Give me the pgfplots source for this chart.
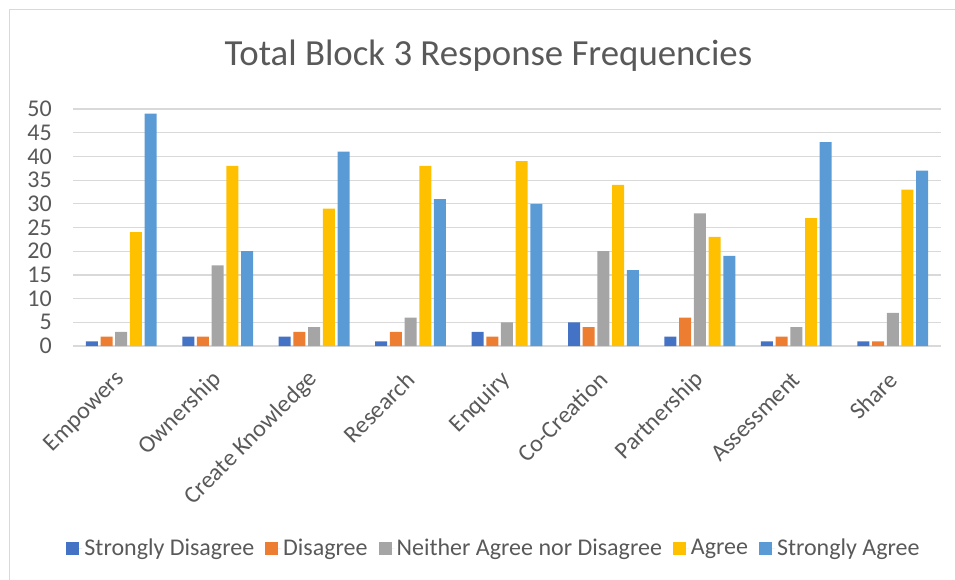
\documentclass[border=0pt]{standalone}
\usepackage{pgfplots}
\pgfplotsset{compat=1.18}
\usepackage{fontspec}
\setmainfont{Carlito}
\definecolor{c1}{HTML}{4472C4}
\definecolor{c2}{HTML}{ED7D31}
\definecolor{c3}{HTML}{A5A5A5}
\definecolor{c4}{HTML}{FFC000}
\definecolor{c5}{HTML}{5B9BD5}
\definecolor{txt}{HTML}{595959}
\definecolor{gridc}{HTML}{D9D9D9}
\pgfplotsset{mylegend/.style={legend image code/.code={\path (0bp,0bp) -- (16bp,0bp);\fill[##1] (0bp,-6.5bp) rectangle (13bp,6.5bp);}}}
\begin{document}
\begin{tikzpicture}
\path[use as bounding box] (0,0) rectangle (955bp,-580bp);
\draw[gridc, line width=1.2bp] (9.5bp,-9.5bp) rectangle (975bp,-600bp);
\node[text=txt, font=\fontsize{36.8bp}{40bp}\selectfont, inner sep=0pt] at (488.5bp,-56bp) {Total Block 3 Response Frequencies};
\begin{axis}[
  at={(73bp,-346bp)}, anchor=south west, scale only axis,
  width=868bp, height=237bp,
  ybar=2.7bp, bar width=12bp,
  xmin=-0.5, xmax=8.5, ymin=0, ymax=50,
  xtick={0,...,8},
  xticklabels={Empowers,Ownership,Create Knowledge,Research,Enquiry,Co-Creation,Partnership,Assessment,Share},
  ytick={0,5,...,50},
  major tick length=0pt,
  axis x line*=bottom, axis y line*=left,
  x axis line style={gridc, line width=1.2bp, -},
  y axis line style={draw=none},
  ymajorgrids, grid style={gridc, line width=1.2bp},
  tick label style={text=txt, font=\fontsize{24bp}{28bp}\selectfont},
  /pgf/number format/assume math mode=true,
  yticklabel style={inner sep=0pt, xshift=-21bp},
  xticklabel style={inner sep=0pt, xshift=0bp, yshift=-30bp, rotate=45, anchor=east},
  legend style={draw=none, fill=none, legend columns=-1, at={(0.5,0)}, anchor=center,
    yshift=-202bp, xshift=-13bp, font=\fontsize{24bp}{28bp}\selectfont, text=txt,
    /tikz/every even column/.append style={column sep=9bp}},
  legend cell align=left,
]
\addplot[fill=c1, draw=none, mylegend] coordinates {(0,1) (1,2) (2,2) (3,1) (4,3) (5,5) (6,2) (7,1) (8,1)};
\addplot[fill=c2, draw=none, mylegend] coordinates {(0,2) (1,2) (2,3) (3,3) (4,2) (5,4) (6,6) (7,2) (8,1)};
\addplot[fill=c3, draw=none, mylegend] coordinates {(0,3) (1,17) (2,4) (3,6) (4,5) (5,20) (6,28) (7,4) (8,7)};
\addplot[fill=c4, draw=none, mylegend] coordinates {(0,24) (1,38) (2,29) (3,38) (4,39) (5,34) (6,23) (7,27) (8,33)};
\addplot[fill=c5, draw=none, mylegend] coordinates {(0,49) (1,20) (2,41) (3,31) (4,30) (5,16) (6,19) (7,43) (8,37)};
\legend{Strongly Disagree, Disagree, Neither Agree nor Disagree, Agree, Strongly Agree}
\end{axis}
\end{tikzpicture}
\end{document}
